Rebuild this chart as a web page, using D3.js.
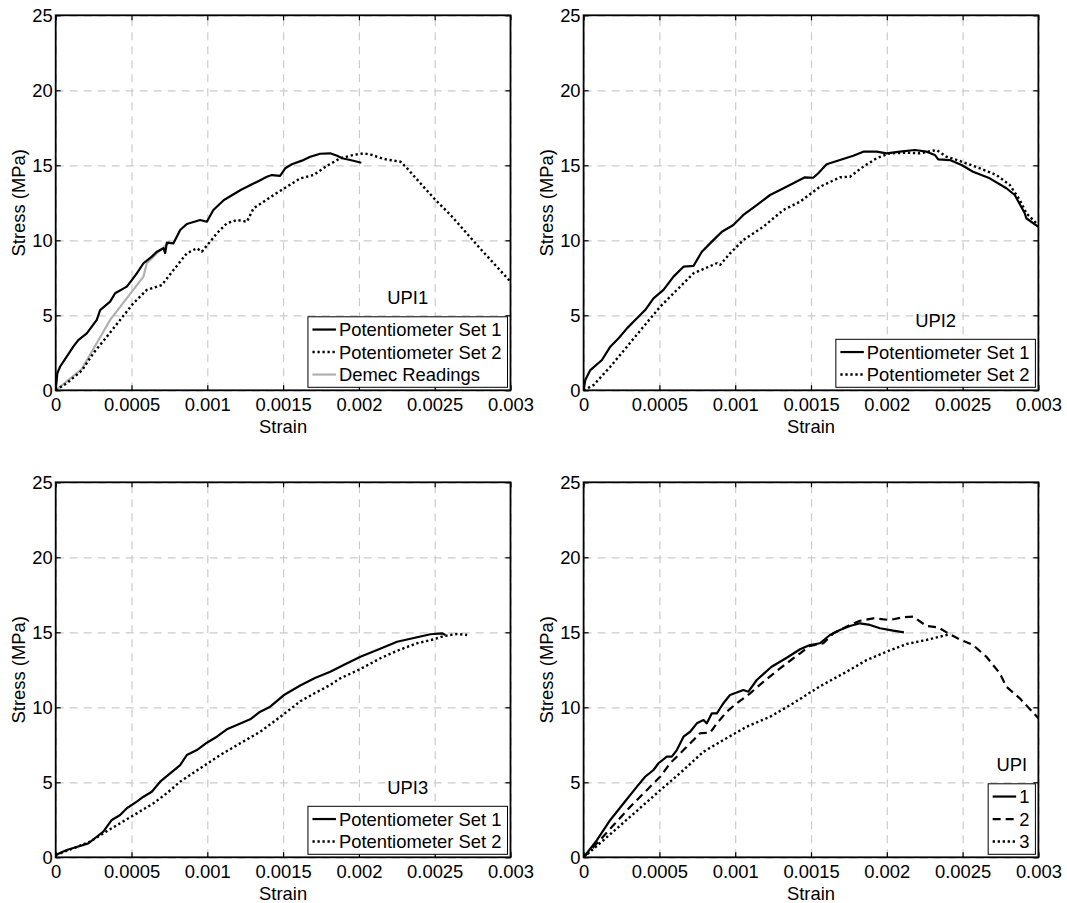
<!DOCTYPE html>
<html>
<head>
<meta charset="utf-8">
<script src="https://cdn.jsdelivr.net/npm/d3@7"></script>
<style>
  body { margin: 0; background: #fff; }
  text { font-family: "Liberation Sans", Arial, Helvetica, sans-serif; }
</style>
</head>
<body>
<svg id="fig" width="1067" height="903"></svg>
<script>
// ---- axis ticks ----
const strainTicks = [0, 0.0005, 0.001, 0.0015, 0.002, 0.0025, 0.003];
const strainTickLabels = ["0", "0.0005", "0.001", "0.0015", "0.002", "0.0025", "0.003"];
const stressTicks = [0, 5, 10, 15, 20, 25];
const stressTickLabels = ["0", "5", "10", "15", "20", "25"];

// ---- UPI1: [strain, stress (MPa)] ----
const upi1Set1 = [[0,0],[0.0000106,1.13],[0.0000284,1.57],[0.0000726,2.24],[0.000116,2.91],[0.000149,3.35],
  [0.000205,3.8],[0.000271,4.69],[0.000293,5.35],[0.000359,5.91],[0.000392,6.47],[0.000469,6.91],[0.000502,7.35],
  [0.000535,7.8],[0.000579,8.47],[0.000634,8.91],[0.000667,9.24],[0.000711,9.47],[0.000722,9.15],[0.000733,9.84],
  [0.000777,9.8],[0.000821,10.69],[0.000865,11.09],[0.000953,11.35],[0.000997,11.24],[0.00104,12.02],[0.00111,12.69],
  [0.00122,13.35],[0.00133,13.91],[0.001393,14.24],[0.001426,14.35],[0.00148,14.3],[0.001514,14.8],[0.001558,15.07],
  [0.001624,15.31],[0.001679,15.57],[0.001745,15.77],[0.001811,15.8],[0.001856,15.64],[0.001889,15.47],
  [0.001943,15.35],[0.002016,15.17]];
const upi1Set2 = [[0,0],[0.0000726,0.47],[0.000172,1.31],[0.000248,2.47],[0.000337,3.57],[0.000425,4.69],
  [0.000512,5.8],[0.000601,6.69],[0.0007,7.02],[0.000777,8.02],[0.000865,9.13],[0.000931,9.47],[0.000964,9.24],
  [0.001019,9.91],[0.001063,10.47],[0.001129,11.13],[0.001195,11.35],[0.001261,11.24],[0.001305,12.13],
  [0.001371,12.57],[0.001437,13.02],[0.001525,13.57],[0.001613,14.13],[0.001701,14.35],[0.00179,14.97],
  [0.001877,15.47],[0.001965,15.69],[0.002031,15.8],[0.002087,15.69],[0.002163,15.42],[0.002274,15.24],
  [0.002318,14.8],[0.002406,13.8],[0.002505,12.69],[0.002604,11.69],[0.0028,9.45],[0.003,7.24]];
const upi1Demec = [[0,0],[0.000172,1.42],[0.000359,4.69],[0.000579,7.58],[0.000601,8.47],[0.000667,9.13],[0.000755,9.91]];

// ---- UPI2 ----
const upi2Set1 = [[0,0],[0.0000112,0.69],[0.0000441,1.35],[0.000121,2.02],[0.000176,2.91],[0.000231,3.47],
  [0.000286,4.13],[0.000352,4.8],[0.000406,5.35],[0.000461,6.13],[0.000527,6.69],[0.000593,7.58],[0.000659,8.24],
  [0.000725,8.29],[0.00078,9.24],[0.000846,9.91],[0.000912,10.57],[0.000988,11.02],[0.001054,11.69],[0.001142,12.35],
  [0.00123,13.02],[0.001296,13.35],[0.001383,13.8],[0.00146,14.2],[0.001515,14.17],[0.001548,14.47],[0.001603,15.07],
  [0.001691,15.35],[0.001779,15.64],[0.001845,15.91],[0.001933,15.91],[0.001999,15.8],[0.002086,15.91],
  [0.002185,16.02],[0.002262,15.91],[0.002317,15.69],[0.002339,15.4],[0.002416,15.35],[0.002493,15.02],
  [0.002569,14.57],[0.002679,14.13],[0.002789,13.47],[0.002844,13.02],[0.00291,11.8],[0.00292,11.47],[0.003,10.9]];
const upi2Set2 = [[0,0],[0.0000659,0.35],[0.000176,1.57],[0.000286,2.91],[0.000395,4.24],[0.000505,5.57],
  [0.000615,6.69],[0.000725,7.8],[0.000879,8.47],[0.0009,8.35],[0.000966,9.13],[0.001054,10.02],[0.001186,10.91],
  [0.001318,12.02],[0.001427,12.57],[0.001559,13.57],[0.001691,14.2],[0.001757,14.24],[0.001845,14.91],
  [0.001933,15.47],[0.00202,15.8],[0.00213,15.84],[0.002218,15.8],[0.002328,16.02],[0.002394,15.57],
  [0.002481,15.29],[0.002613,14.8],[0.002723,14.35],[0.002811,13.69],[0.002877,12.69],[0.002921,11.8],[0.003,11.0]];

// ---- UPI3 ----
const upi3Set1 = [[0,0.15],[0.0000726,0.49],[0.00016,0.75],[0.000215,0.93],[0.000271,1.37],[0.000314,1.71],
  [0.00037,2.49],[0.000425,2.82],[0.000469,3.27],[0.000535,3.71],[0.000579,4.04],[0.000634,4.37],[0.000689,5.04],
  [0.000755,5.6],[0.000821,6.15],[0.000865,6.82],[0.000931,7.15],[0.000997,7.64],[0.001063,8.04],[0.001129,8.53],
  [0.001195,8.82],[0.001283,9.2],[0.001349,9.71],[0.001415,10.04],[0.001503,10.8],[0.001613,11.45],[0.00171,11.95],
  [0.001811,12.37],[0.001899,12.82],[0.00201,13.37],[0.00212,13.82],[0.002252,14.37],[0.002384,14.67],
  [0.002472,14.87],[0.002549,14.93],[0.002571,14.82]];
const upi3Set2 = [[0,0.15],[0.000116,0.6],[0.000227,1.04],[0.000314,1.6],[0.000425,2.27],[0.000535,2.93],
  [0.000645,3.6],[0.000733,4.27],[0.000821,5.04],[0.000953,5.93],[0.001085,6.82],[0.001217,7.6],[0.001349,8.37],
  [0.00148,9.35],[0.001613,10.4],[0.00171,10.95],[0.001811,11.49],[0.001877,11.93],[0.001998,12.49],
  [0.002142,13.27],[0.002252,13.77],[0.002384,14.27],[0.002494,14.53],[0.00256,14.75],[0.002648,14.89],[0.002714,14.82]];

// ---- UPI mean curves (1, 2, 3) ----
const upiMean1 = [[0,0],[0.0000879,1.15],[0.000176,2.49],[0.000264,3.6],[0.000352,4.71],[0.000406,5.37],
  [0.000461,5.82],[0.000494,6.27],[0.000549,6.71],[0.000582,6.71],[0.000615,7.15],[0.000659,8.04],[0.000703,8.37],
  [0.000747,8.93],[0.000791,9.15],[0.000813,8.93],[0.000846,9.6],[0.000879,9.6],[0.000922,10.27],[0.000966,10.82],
  [0.001054,11.15],[0.001087,11.04],[0.001142,11.82],[0.00124,12.7],[0.00134,13.3],[0.001428,13.87],
  [0.001493,14.15],[0.001559,14.27],[0.001625,14.82],[0.001691,15.15],[0.001757,15.42],[0.001823,15.6],
  [0.001889,15.49],[0.001955,15.27],[0.002042,15.11],[0.002113,15.0]];
const upiMean2 = [[0,0],[0.0000879,0.93],[0.000198,2.15],[0.000308,3.37],[0.000418,4.49],[0.000505,5.37],
  [0.000571,6.27],[0.000659,7.15],[0.000725,7.82],[0.000769,8.27],[0.000835,8.31],[0.000879,8.93],[0.000945,9.71],
  [0.00101,10.27],[0.001098,10.93],[0.001186,11.7],[0.001296,12.6],[0.001428,13.6],[0.001493,14.09],
  [0.001581,14.27],[0.001647,14.93],[0.001757,15.49],[0.001823,15.77],[0.00191,15.93],[0.00202,15.82],
  [0.002108,16.0],[0.002174,16.04],[0.002262,15.42],[0.002339,15.33],[0.002405,14.93],[0.002481,14.53],
  [0.002569,14.15],[0.002657,13.37],[0.002745,12.27],[0.002789,11.37],[0.002877,10.6],[0.003,9.27]];
const upiMean3 = [[0,0],[0.000132,1.15],[0.000308,2.71],[0.000483,4.27],[0.000659,5.82],[0.000791,7.04],
  [0.000922,7.82],[0.001076,8.71],[0.00123,9.37],[0.001383,10.27],[0.001559,11.4],[0.001735,12.37],
  [0.001867,13.15],[0.001999,13.71],[0.00213,14.22],[0.002262,14.49],[0.002394,14.82],[0.00242,14.87]];

// ---- line styles ----
const lineStyles = {
  solid:  { stroke: "#000", width: 2.2, dash: null },
  dotted: { stroke: "#000", width: 2.4, dash: "2.3,2.7" },
  dashed: { stroke: "#000", width: 2.2, dash: "8,5" },
  grey:   { stroke: "#b0b0b0", width: 2.2, dash: null }
};

// ---- figure layout ----
const plotW = 454.8, plotH = 375;
const panels = [
  { left: 55.7,  top: 15.3,  label: "UPI1", series: [
      { name: "Potentiometer Set 1", data: upi1Set1, style: "solid" },
      { name: "Potentiometer Set 2", data: upi1Set2, style: "dotted" },
      { name: "Demec Readings", data: upi1Demec, style: "grey" } ] },
  { left: 583.6, top: 15.3,  label: "UPI2", series: [
      { name: "Potentiometer Set 1", data: upi2Set1, style: "solid" },
      { name: "Potentiometer Set 2", data: upi2Set2, style: "dotted" } ] },
  { left: 55.7,  top: 482.3, label: "UPI3", series: [
      { name: "Potentiometer Set 1", data: upi3Set1, style: "solid" },
      { name: "Potentiometer Set 2", data: upi3Set2, style: "dotted" } ] },
  { left: 583.6, top: 482.3, label: "UPI", series: [
      { name: "1", data: upiMean1, style: "solid" },
      { name: "2", data: upiMean2, style: "dashed" },
      { name: "3", data: upiMean3, style: "dotted" } ] }
];

const svg = d3.select("#fig");
const fontSize = 18.4;

panels.forEach((p, i) => {
  const g = svg.append("g").attr("transform", `translate(${p.left},${p.top})`);
  const x = d3.scaleLinear().domain([0, 0.003]).range([0, plotW]);
  const y = d3.scaleLinear().domain([0, 25]).range([plotH, 0]);

  // grid
  const gridX = g.append("g").attr("transform", `translate(0,${plotH})`)
    .call(d3.axisBottom(x).tickValues(strainTicks).tickSize(-plotH).tickFormat(""));
  const gridY = g.append("g")
    .call(d3.axisLeft(y).tickValues(stressTicks).tickSize(-plotW).tickFormat(""));
  [gridX, gridY].forEach(gr => {
    gr.select(".domain").remove();
    gr.selectAll("line").attr("stroke", "#cccccc").attr("stroke-width", 1.2).attr("stroke-dasharray", "8,6");
  });

  // curves
  const clipId = "clip" + i;
  g.append("clipPath").attr("id", clipId).append("rect").attr("width", plotW).attr("height", plotH);
  const line = d3.line().x(d => x(d[0])).y(d => y(d[1]));
  const curves = g.append("g").attr("clip-path", `url(#${clipId})`);
  p.series.slice().reverse().forEach(s => {
    const st = lineStyles[s.style];
    curves.append("path").datum(s.data).attr("d", line)
      .attr("fill", "none").attr("stroke", st.stroke).attr("stroke-width", st.width)
      .attr("stroke-linejoin", "round")
      .attr("stroke-dasharray", st.dash);
  });

  // axes with inward ticks
  const tick = 5;
  const axB = g.append("g").attr("transform", `translate(0,${plotH})`)
    .call(d3.axisBottom(x).tickValues(strainTicks).tickSize(-tick).tickPadding(8)
      .tickFormat((d, k) => strainTickLabels[k]));
  const axL = g.append("g")
    .call(d3.axisLeft(y).tickValues(stressTicks).tickSize(-tick).tickPadding(3)
      .tickFormat((d, k) => stressTickLabels[k]));
  const axT = g.append("g")
    .call(d3.axisTop(x).tickValues(strainTicks).tickSize(-tick).tickFormat(""));
  const axR = g.append("g").attr("transform", `translate(${plotW},0)`)
    .call(d3.axisRight(y).tickValues(stressTicks).tickSize(-tick).tickFormat(""));
  [axB, axL, axT, axR].forEach(a => {
    a.select(".domain").remove();
    a.selectAll("line").attr("stroke", "#000").attr("stroke-width", 1.2);
    a.selectAll("text").attr("fill", "#000").style("font-size", fontSize + "px")
      .style("font-family", '"Liberation Sans", Arial, sans-serif');
  });

  // frame
  g.append("rect").attr("width", plotW).attr("height", plotH)
    .attr("fill", "none").attr("stroke", "#000").attr("stroke-width", 1.8);

  // axis titles
  g.append("text").attr("x", plotW / 2).attr("y", plotH + 42.5)
    .attr("text-anchor", "middle").style("font-size", fontSize + "px").text("Strain");
  g.append("text").attr("transform", `translate(-31,${plotH / 2}) rotate(-90)`)
    .attr("text-anchor", "middle").style("font-size", fontSize + "px").text("Stress (MPa)");

  // legend (bottom-right corner of the axes)
  const rowH = 22.5, inset = 3;
  const leg = g.append("g");
  const box = leg.append("rect").attr("fill", "#fff").attr("stroke", "#000").attr("stroke-width", 1);
  const labels = p.series.map((s, k) => leg.append("text")
    .style("font-size", fontSize + "px").attr("x", 31).attr("y", 1.5 + rowH * (k + 0.5) + 6.5).text(s.name));
  const textW = d3.max(labels, t => t.node().getComputedTextLength());
  const boxW = 31 + textW + 6;
  const boxH = p.series.length * rowH + 3;
  box.attr("width", boxW).attr("height", boxH);
  p.series.forEach((s, k) => {
    const st = lineStyles[s.style];
    const yy = 1.5 + rowH * (k + 0.5);
    leg.append("line").attr("x1", 4.5).attr("x2", 28).attr("y1", yy).attr("y2", yy)
      .attr("stroke", st.stroke).attr("stroke-width", st.width).attr("stroke-dasharray", st.dash);
  });
  const bx = plotW - inset - boxW, by = plotH - inset - boxH;
  leg.attr("transform", `translate(${bx},${by})`);

  // specimen label above the legend
  g.append("text").attr("x", bx + boxW / 2).attr("y", by - 12.5)
    .attr("text-anchor", "middle").style("font-size", fontSize + "px").text(p.label);
});
</script>
</body>
</html>
